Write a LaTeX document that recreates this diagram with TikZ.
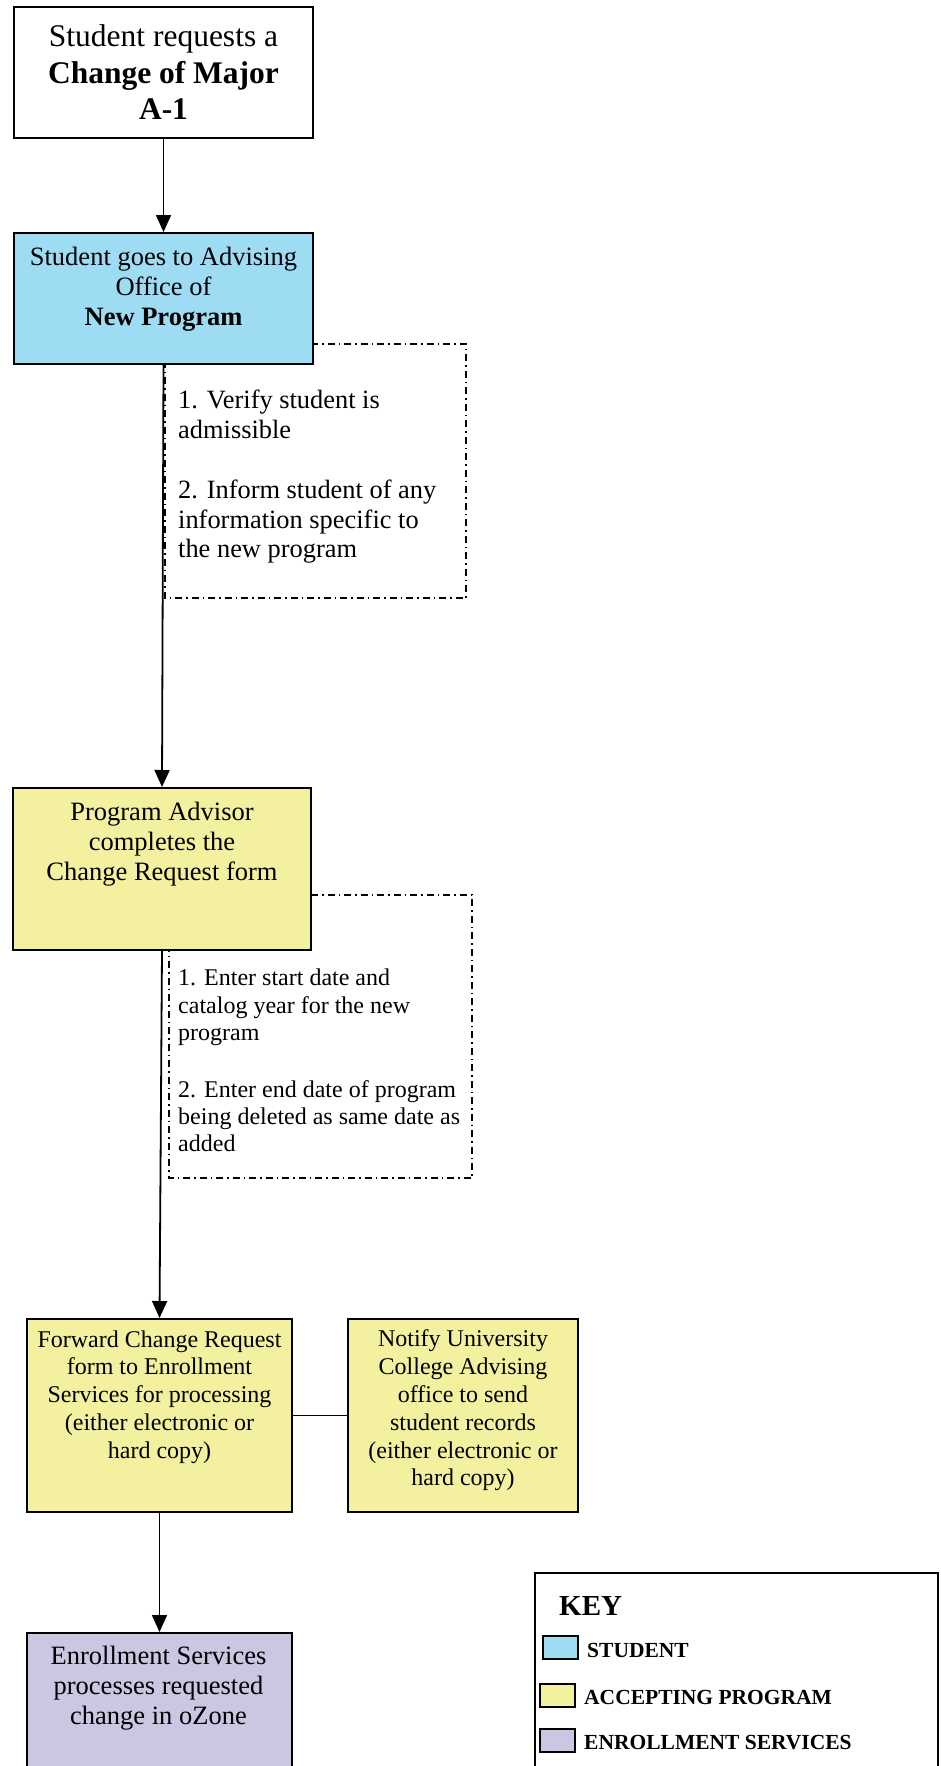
\documentclass[tikz,border=0pt]{standalone}
\usepackage{fontspec}
\setmainfont{Liberation Serif}
\usetikzlibrary{arrows.meta}
\definecolor{stublue}{RGB}{157,220,242}
\definecolor{accyellow}{RGB}{243,241,160}
\definecolor{enrpurple}{RGB}{201,199,225}
\begin{document}
\begin{tikzpicture}[x=1pt,y=-1pt,
  box/.style={draw=black, line width=2pt, rectangle, inner sep=0pt, anchor=north west},
  swatch/.style={draw=black, line width=1.6pt, rectangle, inner sep=0pt, anchor=north west, minimum width=35pt, minimum height=23pt},
  bigtxt/.style={inner sep=0pt, align=center, font={\fontsize{31.5pt}{36.5pt}\selectfont}},
  midtxt/.style={inner sep=0pt, align=center, font={\fontsize{26.5pt}{30pt}\selectfont}},
  smalltxt/.style={inner sep=0pt, align=center, font={\fontsize{24pt}{27.8pt}\selectfont}},
  noteone/.style={inner sep=0pt, align=left, anchor=north west, font={\fontsize{26.4pt}{29.5pt}\selectfont}},
  notetwo/.style={inner sep=0pt, align=left, anchor=north west, font={\fontsize{24pt}{27.3pt}\selectfont}},
  keytxt/.style={inner sep=0pt, anchor=base west, font={\fontsize{21.5pt}{24pt}\selectfont\bfseries}},
  notebox/.style={draw=black, line width=1.3pt, dash pattern=on 7pt off 4pt on 1.5pt off 4pt},
  arr/.style={line width=1.8pt, -{Triangle[length=17pt,width=15pt]}},
  link/.style={line width=1.8pt}
]
\useasboundingbox (0,0) rectangle (940,1766);
\clip (0,0) rectangle (940,1766);

% dashed note frames (partly hidden behind the boxes)
\draw[notebox] (165,344) rectangle (466,598);
\draw[notebox] (169,895) rectangle (472,1178);

% boxes
\node[box, fill=white, minimum width=299pt, minimum height=131pt] (a) at (13,6) {};
\node[box, fill=stublue, minimum width=299pt, minimum height=131pt] (b) at (13,232) {};
\node[box, fill=accyellow, minimum width=298pt, minimum height=162pt] (c) at (12,787) {};
\node[box, fill=accyellow, minimum width=265pt, minimum height=193pt] (d) at (26,1318) {};
\node[box, fill=accyellow, minimum width=230pt, minimum height=193pt] (e) at (347,1318) {};
\node[box, fill=enrpurple, minimum width=265pt, minimum height=200pt] (f) at (26,1632) {};

% box texts
\node[bigtxt] (at) at (a.center) {Student requests a\\\textbf{Change of Major}\\\textbf{A-1}};
\node[midtxt] (bt) at ([yshift=9.5pt]b.center) {Student goes to Advising\\Office of\\\textbf{New Program}};
\node[midtxt] (ct) at ([yshift=25pt]c.center) {Program Advisor\\completes the\\Change Request form};
\node[smalltxt] (dt) at ([yshift=18.5pt]d.center) {Forward Change Request\\form to Enrollment\\Services for processing\\(either electronic or\\hard copy)};
\node[smalltxt] (et) at ([yshift=5pt]e.center) {Notify University\\College Advising\\office to send\\student records\\(either electronic or\\hard copy)};
\node[midtxt] (ft) at (158.5,1688) {Enrollment Services\\processes requested\\change in oZone};

% note texts
\node[noteone] (n1) at (178,390) {1. Verify student is\\admissible\\[31pt]2. Inform student of any\\information specific to\\the new program};
\node[notetwo] (n2) at (178,969) {1. Enter start date and\\catalog year for the new\\program\\[29.5pt]2. Enter end date of program\\being deleted as same date as\\added};

% connectors
\draw[arr] (a.south) -- (b.north);
\draw[arr] (b.south) -- (c.north);
\draw[arr] (c.south) -- (d.north);
\draw[link] (d.east) -- (e.west);
\draw[arr] (d.south) -- (f.north);

% key
\node[draw=black, line width=1.6pt, rectangle, inner sep=0pt, anchor=north west, minimum width=403pt, minimum height=240pt] (key) at (534,1572) {};
\node[inner sep=0pt, anchor=base west, font={\fontsize{29pt}{32pt}\selectfont\bfseries}] (keyt) at (559,1615) {KEY};
\node[swatch, fill=stublue] (s1) at (542,1635) {};
\node[keytxt] (s1t) at (587,1657) {STUDENT};
\node[swatch, fill=accyellow] (s2) at (539,1683) {};
\node[keytxt] (s2t) at (584,1704) {ACCEPTING PROGRAM};
\node[swatch, fill=enrpurple] (s3) at (539,1728) {};
\node[keytxt] (s3t) at (584,1749) {ENROLLMENT SERVICES};
\end{tikzpicture}
\end{document}
